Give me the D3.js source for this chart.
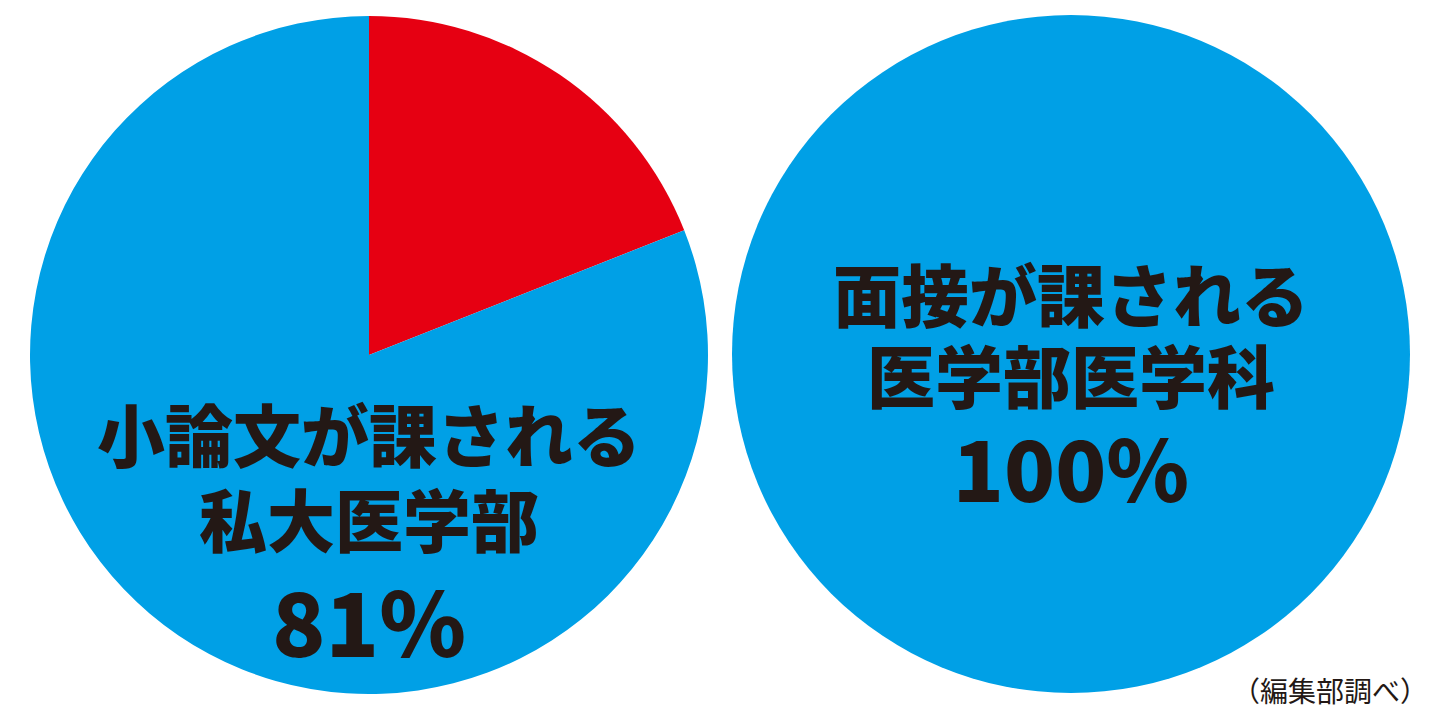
<!DOCTYPE html>
<html>
<head>
<meta charset="utf-8">
<script src="https://cdn.jsdelivr.net/npm/d3@7/dist/d3.min.js"></script>
<style>
  html, body { margin: 0; padding: 0; background: #ffffff; }
  svg { display: block; }
  text { font-family: "Noto Sans CJK JP", "Noto Sans CJK SC", sans-serif; fill: #231815; }
</style>
</head>
<body>
<svg id="chart" width="1440" height="720"></svg>
<script>
// ---- data ----
const chartNames = ["小論文が課される私大医学部", "面接が課される医学部医学科"];
const yesValues = [81, 100];
const noValues = [19, 0];
const labelLines = [["小論文が課される", "私大医学部"], ["面接が課される", "医学部医学科"]];
const valueLabels = ["81%", "100%"];
const sourceNote = "（編集部調べ）";

// ---- layout ----
const W = 1440, H = 720;
const centers = [[369, 355], [1071, 354]];
const radius = 339;
const textLayout = [
  { lines: [462, 547], value: 657, size: 68, valueSize: 88 },
  { lines: [322, 403], value: 502, size: 68, valueSize: 84 }
];
const colorYes = "#00a0e6";
const colorNo = "#e60012";

const svg = d3.select("#chart");

const pie = d3.pie().sort(null).value(d => d.value);
const arc = d3.arc().innerRadius(0).outerRadius(radius);
const color = d3.scaleOrdinal().domain(["no", "yes"]).range([colorNo, colorYes]);

chartNames.forEach((name, i) => {
  const data = [
    { key: "no", value: noValues[i] },
    { key: "yes", value: yesValues[i] }
  ].filter(d => d.value > 0);
  const g = svg.append("g")
    .attr("transform", `translate(${centers[i][0]},${centers[i][1]})`);
  g.selectAll("path")
    .data(pie(data))
    .join("path")
    .attr("d", arc)
    .attr("fill", d => color(d.data.key));

  const tl = textLayout[i];
  labelLines[i].forEach((line, j) => {
    svg.append("text")
      .attr("x", centers[i][0])
      .attr("y", tl.lines[j])
      .attr("text-anchor", "middle")
      .attr("font-size", tl.size)
      .attr("font-weight", 900)
      .text(line);
  });
  svg.append("text")
    .attr("x", centers[i][0])
    .attr("y", tl.value)
    .attr("text-anchor", "middle")
    .attr("font-size", tl.valueSize)
    .attr("font-weight", 900)
    .text(valueLabels[i]);
});

svg.append("text")
  .attr("x", 1428)
  .attr("y", 702)
  .attr("text-anchor", "end")
  .attr("font-size", 28)
  .attr("font-weight", 400)
  .text(sourceNote);
</script>
</body>
</html>
